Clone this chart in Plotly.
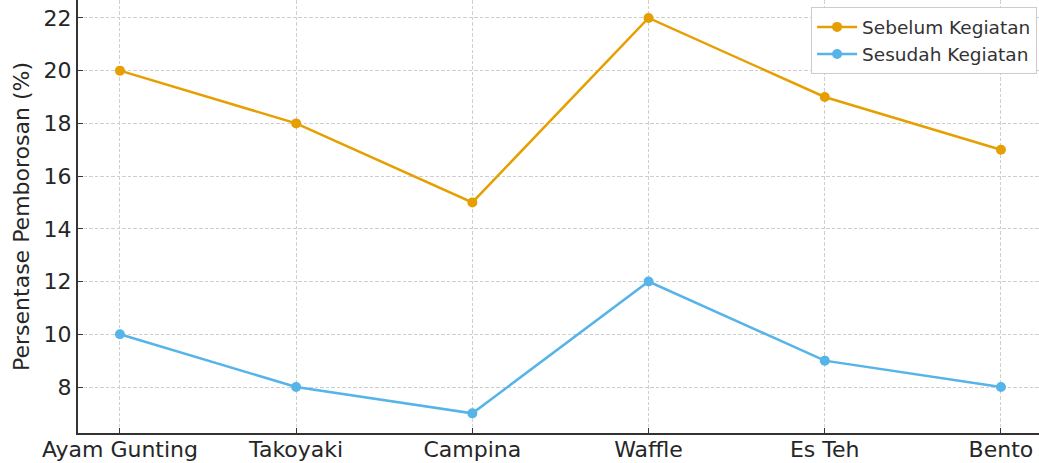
import plotly.graph_objects as go

categories = ["Ayam Gunting", "Takoyaki", "Campina", "Waffle", "Es Teh", "Bento"]
sebelum = [20, 18, 15, 22, 19, 17]
sesudah = [10, 8, 7, 12, 9, 8]
y_ticks = [8, 10, 12, 14, 16, 18, 20, 22]

x_idx = list(range(len(categories)))

fig = go.Figure()
fig.add_trace(go.Scatter(
    x=x_idx, y=sebelum, mode="lines+markers", name="Sebelum Kegiatan",
    line=dict(color="#E69F00", width=2.5), marker=dict(size=10, color="#E69F00")))
fig.add_trace(go.Scatter(
    x=x_idx, y=sesudah, mode="lines+markers", name="Sesudah Kegiatan",
    line=dict(color="#56B4E9", width=2.5), marker=dict(size=10, color="#56B4E9")))

grid = dict(showgrid=True, gridcolor="#cfcfcf", griddash="3.5px,2px", gridwidth=1)
fig.update_layout(
    width=1039, height=463,
    margin=dict(l=78, r=0, t=0, b=30, autoexpand=False),
    paper_bgcolor="white", plot_bgcolor="white",
    font=dict(family="DejaVu Sans", size=22, color="#262626"),
    showlegend=True,
    legend=dict(x=0.998, y=0.983, xanchor="right", yanchor="top",
                bgcolor="white", bordercolor="#cccccc", borderwidth=1,
                itemwidth=40,
                font=dict(size=18.5, color="#333333"), tracegroupgap=2),
    xaxis=dict(range=[-0.238, 5.216], tickmode="array", tickvals=x_idx,
               ticktext=categories, showline=True, linecolor="#333333", linewidth=2,
               ticks="inside", ticklen=5, tickcolor="#333333", zeroline=False,
               ticklabelstandoff=-4,
               automargin=False, mirror=False, **grid),
    yaxis=dict(range=[6.255, 22.68], tickmode="array", tickvals=y_ticks,
               showline=True, linecolor="#333333", linewidth=2,
               ticks="inside", ticklen=5, tickcolor="#333333", zeroline=False,
               automargin=False,
               title=dict(text="Persentase Pemborosan (%)", standoff=8,
                          font=dict(size=22)),
               **grid),
)
fig.write_html("out.html", config={"displayModeBar": False},
               post_script="document.body.style.margin='0';document.body.style.overflow='hidden';")
